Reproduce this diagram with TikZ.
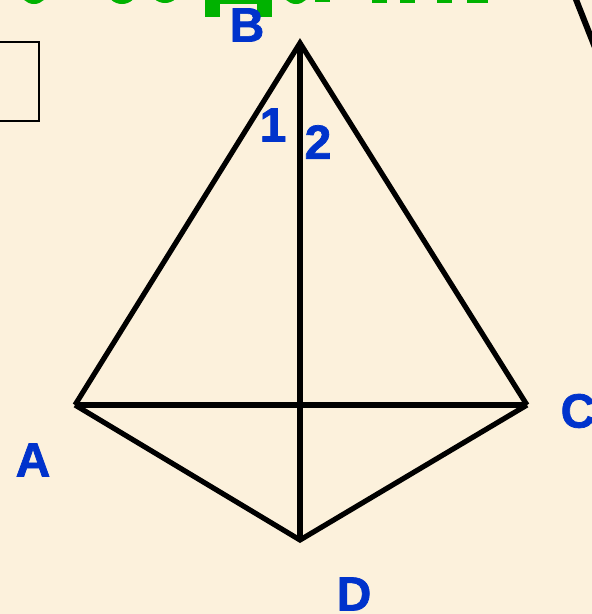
\documentclass[tikz,border=0pt]{standalone}
\usepackage{fontspec}
\setmainfont{Liberation Sans}
\newfontfamily\lblfont{Liberation Sans Bold}[FakeBold=1.5]
\definecolor{bgc}{RGB}{252,241,220}
\definecolor{lblblue}{RGB}{0,51,204}
\definecolor{titlegreen}{RGB}{0,178,0}
\begin{document}
\begin{tikzpicture}[x=1pt,y=-1pt,
  edge/.style={line width=5.2pt,line join=miter,black},
  lbl/.style={text=lblblue,font=\fontsize{48}{48}\lblfont\bfseries,inner sep=0pt},
  glyph/.style={fill=titlegreen,draw=none}]
\useasboundingbox (0,0) rectangle (592,614);
\clip (0,0) rectangle (592,614);
\fill[bgc] (0,0) rectangle (592,614);
% cropped title remnants
\fill[glyph] (34,-10) ellipse [x radius=14, y radius=14];
\fill[glyph] (122,-10) ellipse [x radius=15, y radius=14];
\fill[glyph] (165,-11) ellipse [x radius=15, y radius=14];
\fill[glyph] (205,0) rectangle (272,4);
\fill[glyph] (205,0) rectangle (220,17);
\fill[glyph] (257,0) rectangle (272,17);
\fill[glyph] (296,-10) ellipse [x radius=14, y radius=14];
\fill[glyph] (315,0) rectangle (330,2);
\fill[glyph] (372,0) rectangle (387,3);
\fill[glyph] (400,0) rectangle (415,3);
\fill[glyph] (437,0) rectangle (452,3);
\fill[glyph] (467,0) rectangle (488,3);
% left box and top-right stroke
\draw[line width=1.8pt,black] (-5,42) rectangle (39,121);
\draw[line width=6pt,black] (575,-3) -- (596,50);
% vertices
\coordinate (B) at (300,43);
\coordinate (A) at (75,405);
\coordinate (C) at (527,405);
\coordinate (D) at (300,540);
\draw[edge] (A) -- (B) -- (C);
\draw[edge] (A) -- (D) -- (C);
\draw[edge] (A) -- (C);
\draw[edge] (B) -- (D);
% labels
\node[lbl] (lB) at (247,25) {B};
\node[lbl] (l1) at (273,125) {1};
\node[lbl] (l2) at (318,142) {2};
\node[lbl] (lA) at (33,460) {A};
\node[lbl] (lC) at (578,411) {C};
\node[lbl] (lD) at (354,594) {D};
\end{tikzpicture}
\end{document}
